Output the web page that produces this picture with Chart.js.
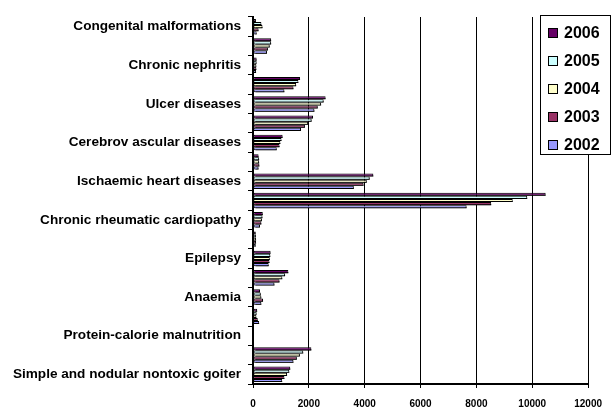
<!DOCTYPE html>
<html>
<head>
<meta charset="utf-8">
<script src="https://cdn.jsdelivr.net/npm/chart.js@4"></script>
<style>
html,body{margin:0;padding:0;background:#fff;}
#wrap{position:relative;width:612px;height:407px;}
</style>
</head>
<body>
<div id="wrap"><canvas id="c" width="612" height="407"></canvas></div>
<script>
// Categories, bottom to top (as in the original chart)
const categories = [
  "Simple and nodular nontoxic goiter",
  "Diabetes mellitus",
  "Protein-calorie malnutrition",
  "Other nutritional deficiencies",
  "Anaemia",
  "Alzheimer and other dementias",
  "Epilepsy",
  "Multiple sclerosis",
  "Chronic rheumatic cardiopathy",
  "Hypertensive heart disease",
  "Ischaemic heart diseases",
  "Inflammatory heart diseases",
  "Cerebrov ascular diseases",
  "Chronic obstructive pulmonary disease",
  "Ulcer diseases",
  "Cirrhosis of the liver",
  "Chronic nephritis",
  "Nephrotic syndrome",
  "Congenital malformations"
];
// Series, in legend order (top of each group first)
const years = ["2006", "2005", "2004", "2003", "2002"];
const v2006 = [1335, 2090, 0, 150, 250, 1265, 630, 100, 350, 10480, 4310, 200, 1060, 2150, 2600, 1685, 130, 650, 105];
const v2005 = [1300, 1800, 0, 130, 280, 1150, 620, 105, 340, 9820, 4180, 220, 1020, 2100, 2530, 1625, 130, 650, 300];
const v2004 = [1220, 1680, 0, 120, 300, 1050, 600, 110, 320, 9300, 4075, 220, 980, 1975, 2440, 1545, 120, 600, 340];
const v2003 = [1125, 1570, 0, 170, 360, 950, 590, 110, 300, 8530, 3960, 230, 950, 1860, 2320, 1450, 120, 535, 200];
const v2002 = [1045, 1450, 0, 220, 300, 770, 560, 100, 250, 7650, 3610, 200, 850, 1720, 2200, 1125, 110, 500, 130];
const xTicks = [0, 2000, 4000, 6000, 8000, 10000, 12000];

const seriesValues = [v2006, v2005, v2004, v2003, v2002];
const colors = ["#660066", "#CCFFFF", "#FFFFCC", "#993366", "#9999FF"];

const datasets = years.map((y, i) => ({
  label: y,
  data: seriesValues[i],
  backgroundColor: colors[i],
  borderColor: "#000",
  borderWidth: 1,
  borderSkipped: false,
  barPercentage: 1.0,
  categoryPercentage: 0.8
}));

const shadowPlugin = {
  id: "shadow",
  beforeDatasetsDraw(chart) {
    const ctx = chart.ctx;
    ctx.save();
    ctx.shadowColor = "#000";
    ctx.shadowOffsetX = 2;
    ctx.shadowOffsetY = 2;
    ctx.shadowBlur = 0;
  },
  afterDatasetsDraw(chart) {
    chart.ctx.restore();
  }
};

const legendPlugin = {
  id: "boxLegend",
  afterDraw(chart) {
    const ctx = chart.ctx;
    ctx.save();
    const bx = 540.5, by = 15.5, bw = 70, bh = 139;
    ctx.fillStyle = "#fff";
    ctx.fillRect(bx, by, bw, bh);
    ctx.strokeStyle = "#000";
    ctx.lineWidth = 1;
    ctx.strokeRect(bx, by, bw, bh);
    ctx.font = "bold 16px 'Liberation Sans', Arial, sans-serif";
    ctx.textBaseline = "middle";
    ctx.textAlign = "left";
    const ds = chart.data.datasets;
    for (let k = 0; k < ds.length; k++) {
      const d = ds[k];
      const cy = 33 + k * 28;
      ctx.fillStyle = d.backgroundColor;
      ctx.fillRect(548.5, cy - 4.5, 9, 9);
      ctx.strokeStyle = "#000";
      ctx.strokeRect(548.5, cy - 4.5, 9, 9);
      ctx.fillStyle = "#000";
      ctx.fillText(d.label, 564, cy + 1);
    }
    ctx.restore();
  }
};

new Chart(document.getElementById("c"), {
  type: "bar",
  data: { labels: categories, datasets: datasets },
  options: {
    indexAxis: "y",
    responsive: false,
    animation: false,
    layout: { padding: { top: 17, right: 15, left: 0, bottom: 0 } },
    plugins: { legend: { display: false }, tooltip: { enabled: false }, title: { display: false } },
    scales: {
      x: {
        type: "linear",
        min: xTicks[0],
        max: xTicks[xTicks.length - 1],
        afterBuildTicks(scale) { scale.ticks = xTicks.map(v => ({ value: v })); },
        afterFit(scale) { scale.height = 23; },
        grid: { color: "#000", lineWidth: 1, tickLength: 4, drawOnChartArea: true },
        border: { color: "#000", width: 2 },
        ticks: {
          color: "#000",
          padding: 10,
          maxRotation: 0,
          font: { family: "'Liberation Sans', Arial, sans-serif", size: 10, weight: "bold" },
          callback(value) { return String(value); }
        }
      },
      y: {
        reverse: true,
        afterFit(scale) { scale.width = 253; },
        grid: { color: "#000", lineWidth: 1, tickLength: 5, drawOnChartArea: false, offset: true },
        border: { color: "#000", width: 2 },
        ticks: {
          autoSkip: false,
          color: "#000",
          padding: 7,
          font: { family: "'Liberation Sans', Arial, sans-serif", size: 13.6, weight: "bold" },
          callback(value, index) { return index % 2 === 0 ? this.getLabelForValue(value) : ""; }
        }
      }
    }
  },
  plugins: [shadowPlugin, legendPlugin]
});
</script>
</body>
</html>
